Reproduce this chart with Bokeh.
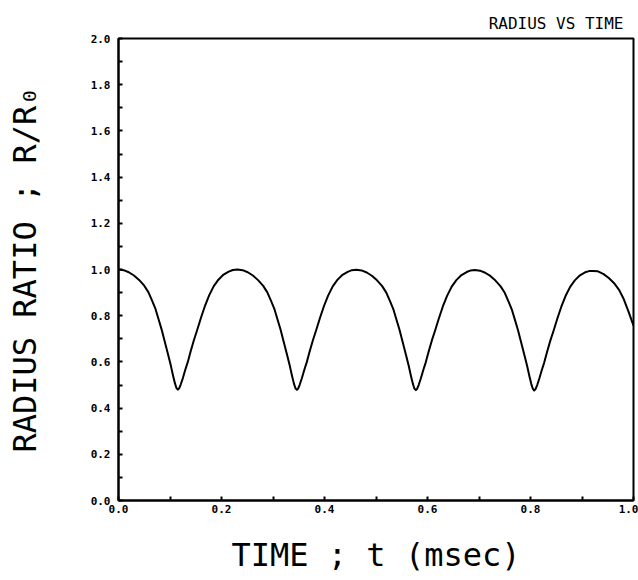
from bokeh.plotting import figure
from bokeh.models import Range1d, FixedTicker, PrintfTickFormatter
from bokeh.embed import file_html
from bokeh.resources import INLINE

# ---- data (time in msec, radius ratio R/R0) ----
t_cycle1 = [0.000, 0.010, 0.020, 0.030, 0.040, 0.050, 0.058, 0.0654, 0.072, 0.0775,
            0.0835, 0.090, 0.0965, 0.1015, 0.106, 0.1095, 0.1125, 0.1152, 0.118, 0.121,
            0.125, 0.130, 0.1346, 0.140, 0.1465, 0.1528, 0.160, 0.168, 0.176, 0.185,
            0.194, 0.204, 0.214, 0.222]
r_cycle1 = [1.000, 0.997, 0.988, 0.974, 0.955, 0.930, 0.902, 0.864, 0.828, 0.787,
            0.742, 0.686, 0.630, 0.585, 0.540, 0.508, 0.487, 0.480, 0.486, 0.503,
            0.530, 0.568, 0.600, 0.645, 0.695, 0.738, 0.790, 0.843, 0.888, 0.928,
            0.956, 0.978, 0.991, 0.998]

t_cycle2 = [0.231, 0.241, 0.251, 0.261, 0.271, 0.281, 0.289, 0.2964, 0.303, 0.3085,
            0.3145, 0.321, 0.3275, 0.3325, 0.337, 0.3405, 0.3435, 0.3465, 0.349, 0.352,
            0.356, 0.361, 0.3656, 0.371, 0.3775, 0.3838, 0.391, 0.399, 0.407, 0.416,
            0.425, 0.435, 0.445, 0.453]
r_cycle2 = [1.000, 0.997, 0.988, 0.974, 0.954, 0.929, 0.901, 0.863, 0.827, 0.786,
            0.741, 0.685, 0.629, 0.584, 0.539, 0.507, 0.486, 0.479, 0.485, 0.502,
            0.529, 0.567, 0.599, 0.644, 0.694, 0.737, 0.789, 0.842, 0.887, 0.927,
            0.955, 0.977, 0.990, 0.997]

t_cycle3 = [0.462, 0.472, 0.482, 0.492, 0.502, 0.512, 0.520, 0.5274, 0.534, 0.5395,
            0.5455, 0.552, 0.5585, 0.5635, 0.568, 0.5715, 0.5745, 0.5775, 0.580, 0.583,
            0.587, 0.592, 0.5966, 0.602, 0.6085, 0.6148, 0.622, 0.630, 0.638, 0.647,
            0.656, 0.666, 0.676, 0.684]
r_cycle3 = [0.999, 0.996, 0.987, 0.973, 0.953, 0.928, 0.900, 0.862, 0.826, 0.785,
            0.740, 0.684, 0.628, 0.583, 0.538, 0.506, 0.485, 0.478, 0.484, 0.501,
            0.528, 0.566, 0.598, 0.643, 0.693, 0.736, 0.788, 0.841, 0.886, 0.926,
            0.954, 0.976, 0.989, 0.996]

t_cycle4 = [0.692, 0.702, 0.712, 0.722, 0.732, 0.742, 0.750, 0.7574, 0.764, 0.7695,
            0.7755, 0.782, 0.7885, 0.7935, 0.798, 0.8015, 0.8045, 0.8072, 0.810, 0.813,
            0.817, 0.822, 0.8266, 0.832, 0.8385, 0.8448, 0.852, 0.860, 0.868, 0.877,
            0.886, 0.896, 0.906, 0.914]
r_cycle4 = [0.998, 0.995, 0.986, 0.972, 0.952, 0.927, 0.899, 0.861, 0.825, 0.784,
            0.739, 0.683, 0.627, 0.582, 0.537, 0.505, 0.484, 0.476, 0.483, 0.500,
            0.527, 0.565, 0.597, 0.642, 0.692, 0.735, 0.787, 0.840, 0.885, 0.925,
            0.953, 0.975, 0.988, 0.993]

t_cycle5 = [0.921, 0.931, 0.942, 0.952, 0.962, 0.972, 0.981, 0.990, 1.000]
r_cycle5 = [0.994, 0.992, 0.980, 0.963, 0.942, 0.912, 0.872, 0.820, 0.757]

time_msec = t_cycle1 + t_cycle2 + t_cycle3 + t_cycle4 + t_cycle5
radius_ratio = r_cycle1 + r_cycle2 + r_cycle3 + r_cycle4 + r_cycle5

x_ticks = [0.0, 0.2, 0.4, 0.6, 0.8, 1.0]
x_minor = [0.1, 0.3, 0.5, 0.7, 0.9]
y_ticks = [0.0, 0.2, 0.4, 0.6, 0.8, 1.0, 1.2, 1.4, 1.6, 1.8, 2.0]
y_minor = [0.1, 0.3, 0.5, 0.7, 0.9, 1.1, 1.3, 1.5, 1.7, 1.9]

FONT = "DejaVu Sans Mono"

p = figure(width=638, height=580, output_backend="svg", toolbar_location=None,
           x_range=Range1d(0, 1), y_range=Range1d(0, 2),
           min_border_left=118, min_border_right=5, min_border_top=38,
           min_border_bottom=80, background_fill_color="white",
           border_fill_color="white")

p.line(time_msec, radius_ratio, line_color="black", line_width=2,
       line_join="round")

p.title.text = "RADIUS VS TIME"
p.title.align = "right"
p.title.text_font = FONT
p.title.text_font_size = "16px"
p.title.text_font_style = "normal"
p.title.text_color = "black"
p.title.offset = 10
p.title.standoff = 12

p.xgrid.visible = False
p.ygrid.visible = False
p.outline_line_color = "black"
p.outline_line_width = 2

for ax in (p.xaxis[0], p.yaxis[0]):
    ax.axis_line_color = "black"
    ax.axis_line_width = 2
    ax.major_tick_in = 4
    ax.major_tick_out = 0
    ax.minor_tick_in = 4
    ax.minor_tick_out = 0
    ax.major_tick_line_width = 2
    ax.minor_tick_line_width = 2
    ax.major_label_text_font = FONT
    ax.major_label_text_font_size = "11px"
    ax.major_label_text_font_style = "bold"
    ax.major_label_text_color = "black"
    ax.formatter = PrintfTickFormatter(format="%.1f")
    ax.axis_label_text_font = FONT
    ax.axis_label_text_font_size = "32px"
    ax.axis_label_text_font_style = "normal"
    ax.axis_label_text_color = "black"

p.xaxis[0].ticker = FixedTicker(ticks=x_ticks, minor_ticks=x_minor)
p.yaxis[0].ticker = FixedTicker(ticks=y_ticks, minor_ticks=y_minor)
p.xaxis[0].major_label_standoff = 4
p.yaxis[0].major_label_standoff = 8
p.xaxis[0].axis_label = "TIME ; t (msec)"
p.yaxis[0].axis_label = "RADIUS RATIO ; R/R\u2080"
p.xaxis[0].axis_label_standoff = 20
p.yaxis[0].axis_label_standoff = 44

open("out.html", "w").write(file_html(p, INLINE))
